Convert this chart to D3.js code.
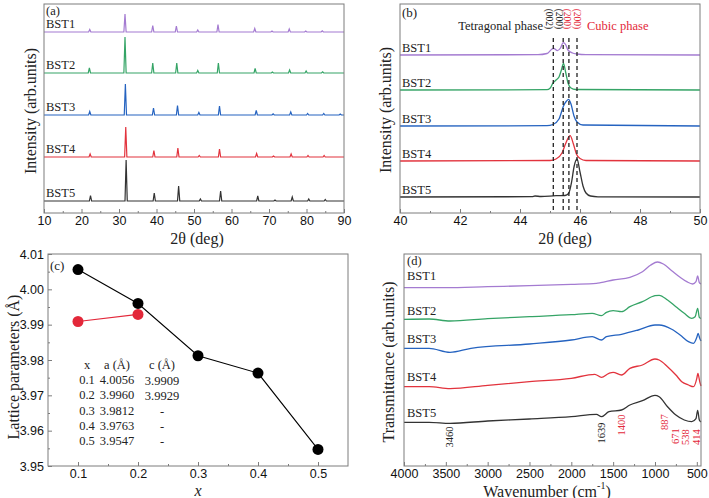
<!DOCTYPE html>
<html>
<head>
<meta charset="utf-8">
<script src="https://cdn.jsdelivr.net/npm/d3@7"></script>
<style>
  body { margin: 0; background: #fff; }
  text { font-family: "Liberation Serif", "Times New Roman", serif; fill: #222; }
</style>
</head>
<body>
<div id="chart"></div>
<script>
// sample names + colours
var samples = ["BST1", "BST2", "BST3", "BST4", "BST5"];
var sampleColors = ["#a47bd1", "#35a466", "#2563c0", "#e2333d", "#333333"];

// (a) XRD peaks for each sample: [2theta, height above the sample's own baseline]
var xrdPeaksBST1 = [[22.2, 2.5], [31.6, 18], [39.0, 6.5], [45.3, 6], [51.0, 2], [56.4, 7.5], [66.2, 3.5], [70.8, 1], [75.4, 3], [79.8, 1], [84.2, 1.2]];
var xrdPeaksBST2 = [[22.1, 5], [31.6, 36], [39.0, 10], [45.4, 10], [51.0, 2.5], [56.5, 10], [66.3, 4.5], [70.9, 1], [75.5, 3], [79.9, 2], [84.3, 1.2]];
var xrdPeaksBST3 = [[22.2, 3.5], [31.7, 31], [39.2, 7], [45.6, 9.5], [51.3, 2.5], [56.8, 9], [66.6, 4.5], [71.1, 1.2], [75.8, 3], [80.3, 1.5], [84.6, 1.5], [89.0, 1]];
var xrdPeaksBST4 = [[22.3, 3], [31.8, 30], [39.3, 6.5], [45.7, 9], [51.4, 1.5], [56.8, 8], [66.7, 3.5], [71.2, 1], [75.9, 3], [80.4, 1.5], [84.7, 1.5]];
var xrdPeaksBST5 = [[22.4, 5.5], [31.9, 41], [39.4, 8], [45.9, 15], [51.7, 2], [57.1, 10], [67.0, 5], [71.6, 1], [76.2, 4], [80.6, 2], [85.0, 1.5]];
var xrdPeaksA = [xrdPeaksBST1, xrdPeaksBST2, xrdPeaksBST3, xrdPeaksBST4, xrdPeaksBST5];
var xrdBaseA = [181, 140, 98, 56, 12];

// (b) zoom on the 45 deg peak, stacked intensity [2theta, value]
var zoomBST1 = [[40, 155], [44.6, 155.3], [44.9, 156.5], [45.05, 160.5], [45.12, 161.7], [45.25, 159.3], [45.35, 162], [45.44, 167.3], [45.52, 165.5], [45.6, 160], [45.75, 157], [45.9, 156], [46.2, 155.3], [50, 155]];
var zoomBST2 = [[40, 120], [44.9, 120.3], [45.0, 121.7], [45.1, 127], [45.2, 130], [45.3, 133], [45.38, 140], [45.45, 146.7], [45.52, 138], [45.6, 127], [45.7, 122], [45.85, 120.5], [50, 120]];
var zoomBST3 = [[40, 84], [44.9, 84.3], [45.1, 85.5], [45.3, 91], [45.45, 104], [45.55, 109], [45.62, 110.7], [45.7, 106], [45.8, 94], [45.9, 88], [46.1, 85], [50, 84]];
var zoomBST4 = [[40, 49], [45.0, 49.5], [45.2, 51], [45.4, 57], [45.53, 67], [45.67, 74.3], [45.78, 66], [45.88, 56], [46.0, 51.5], [46.2, 49.5], [50, 49]];
var zoomBST5 = [[40, 13], [44.4, 13.3], [44.5, 14], [44.7, 13.5], [45.2, 14.3], [45.5, 14.5], [45.62, 16.5], [45.72, 28], [45.8, 43], [45.9, 51], [46.0, 38], [46.1, 24], [46.2, 17], [46.35, 14], [46.6, 13.2], [50, 13]];
var zoomSeries = [zoomBST1, zoomBST2, zoomBST3, zoomBST4, zoomBST5];
var planePos = [45.11, 45.44, 45.63, 45.9];
var planeLabels = ["(002)", "(200)", "(200)", "(200)"];
var planeCubic = [false, false, true, true];

// (c) lattice parameters
var xComp = [0.1, 0.2, 0.3, 0.4, 0.5];
var aParam = [4.0056, 3.9960, 3.9812, 3.9763, 3.9547];
var cComp = [0.1, 0.2];
var cParam = [3.9909, 3.9929];

// (d) FTIR, stacked transmittance [wavenumber, value]
var irBST1 = [[4000, 178.3], [3500, 178.3], [3000, 179.3], [2500, 180.3], [2000, 181.7], [1700, 182.7], [1650, 183.3], [1500, 186], [1300, 188.7], [1150, 194.3], [1050, 201], [970, 204], [900, 202], [800, 195.3], [700, 188.7], [620, 184.3], [550, 182], [510, 184.3], [490, 190], [470, 183.3], [450, 182]];
var irBST2 = [[4000, 146.7], [3700, 147], [3450, 145], [3000, 147.3], [2500, 149.3], [2000, 151.3], [1750, 152.7], [1640, 150.3], [1580, 153.7], [1500, 155.3], [1400, 154.3], [1300, 159.3], [1150, 164.3], [1000, 170.3], [950, 170.7], [850, 166], [750, 159.3], [650, 152.7], [560, 147.7], [520, 149.3], [490, 157.7], [470, 148.7], [450, 147.5]];
var irBST3 = [[4000, 117.7], [3700, 117.7], [3450, 113.7], [3200, 117.7], [2500, 122], [2000, 126], [1750, 129.3], [1640, 126], [1580, 129.3], [1400, 131.7], [1200, 136], [1000, 141], [950, 141], [800, 136.7], [700, 131], [600, 124.3], [540, 122.7], [500, 128.7], [485, 132.7], [465, 127.7], [450, 125]];
var irBST4 = [[4000, 79.3], [3700, 79.3], [3450, 77.3], [3000, 80.7], [2500, 84.3], [2000, 87.7], [1720, 91.7], [1640, 88.7], [1550, 92.7], [1500, 93.7], [1400, 91], [1300, 97.7], [1150, 101], [1000, 107], [950, 106], [850, 99.3], [750, 91], [680, 84.3], [600, 81], [540, 79.3], [500, 87.7], [487, 92.7], [465, 84.3], [450, 80]];
var irBST5 = [[4000, 43.7], [3700, 43.7], [3450, 42.7], [3000, 45], [2500, 47], [2000, 49.3], [1700, 51.7], [1640, 49.3], [1550, 54.3], [1400, 56], [1300, 61], [1150, 65.3], [1000, 70.7], [950, 69.3], [850, 59.3], [750, 51], [650, 46], [560, 44.3], [510, 47.3], [490, 55.7], [470, 46], [450, 44]];
var irSeries = [irBST1, irBST2, irBST3, irBST4, irBST5];
var irBands = [3460, 1639, 1400, 887, 671, 538, 414];
var irBandRed = [false, false, true, true, true, true, true];
var irBandNudge = [0, 0, 0, 0, -7, -8, -8];

var frameColor = "#7d7d7d";
var red = "#e3283a";
var sansFont = "'Liberation Sans', Arial, sans-serif";

var svg = d3.select("#chart")
  .append("svg")
  .attr("width", 709)
  .attr("height", 498);

// panel boxes
var boxA = { left: 44, right: 344, top: 4, bottom: 213 };
var boxB = { left: 400, right: 700, top: 4, bottom: 213 };
var boxC = { left: 48, right: 348, top: 254, bottom: 466 };
var boxD = { left: 404, right: 701, top: 254, bottom: 466 };

function frame(box) {
  svg.append("rect")
    .attr("x", box.left).attr("y", box.top)
    .attr("width", box.right - box.left)
    .attr("height", box.bottom - box.top)
    .attr("fill", "none")
    .attr("stroke", frameColor)
    .attr("stroke-width", 1);
}

function styleAxis(g) {
  g.select(".domain").remove();
  g.selectAll(".tick line").attr("stroke", frameColor);
  g.selectAll(".tick text")
    .style("font-family", sansFont)
    .style("font-size", "12.5px")
    .style("fill", "#111");
}

function xTicks(scale, y, major, minor, fmt) {
  var g = svg.append("g")
    .attr("transform", `translate(0, ${y})`)
    .call(d3.axisBottom(scale).tickValues(major).tickSizeInner(-4).tickSizeOuter(0).tickPadding(3).tickFormat(fmt));
  styleAxis(g);
  var m = svg.append("g")
    .attr("transform", `translate(0, ${y})`)
    .call(d3.axisBottom(scale).tickValues(minor).tickSizeInner(-2).tickSizeOuter(0).tickFormat(""));
  styleAxis(m);
}

function label(x, y, txt, size, opts) {
  opts = opts || {};
  var t = svg.append("text")
    .attr("x", x).attr("y", y)
    .attr("dominant-baseline", "central")
    .attr("text-anchor", opts.anchor || "start")
    .attr("font-size", size)
    .text(txt);
  if (opts.rotate) t.attr("transform", `rotate(${opts.rotate}, ${x}, ${y})`);
  if (opts.color) t.style("fill", opts.color);
  if (opts.italic) t.attr("font-style", "italic");
  return t;
}

// ---------------- (a) XRD ----------------
var xA = d3.scaleLinear().domain([10, 90]).range([boxA.left, boxA.right]);
var yA = d3.scaleLinear().domain([0, 209]).range([boxA.bottom, boxA.top]);
var lineA = d3.line().x(d => xA(d[0])).y(d => yA(d[1]));

xrdPeaksA.forEach(function(peaks, i) {
  var base = xrdBaseA[i];
  var pts = [[10, base]];
  peaks.forEach(function(p) {
    pts.push([p[0] - 0.3, base], [p[0], base + p[1]], [p[0] + 0.3, base]);
  });
  pts.push([90, base]);
  svg.append("path")
    .attr("d", lineA(pts))
    .attr("fill", "none")
    .attr("stroke", sampleColors[i])
    .attr("stroke-width", 1.2);
  label(46, yA(base) - 8, samples[i], 12.5);
});
frame(boxA);
xTicks(xA, boxA.bottom, d3.range(10, 91, 10), d3.range(15, 90, 10), d3.format("d"));
label(46, 11, "(a)", 12.5);
label(30, 111, "Intensity (arb.units)", 16, { anchor: "middle", rotate: -90 });
label(197, 238, "2θ (deg)", 16, { anchor: "middle" });

// ---------------- (b) zoomed XRD ----------------
var xB = d3.scaleLinear().domain([40, 50]).range([boxB.left, boxB.right]);
var yB = d3.scaleLinear().domain([-3, 206]).range([boxB.bottom, boxB.top]);
var lineB = d3.line().x(d => xB(d[0])).y(d => yB(d[1])).curve(d3.curveMonotoneX);

zoomSeries.forEach(function(s, i) {
  svg.append("path")
    .attr("d", lineB(s))
    .attr("fill", "none")
    .attr("stroke", sampleColors[i])
    .attr("stroke-width", 1.3);
  label(402, yB(s[0][1]) - 7, samples[i], 12.5);
});

var planeNudge = [-4, -4, -2, 0];
planePos.forEach(function(p, i) {
  svg.append("line")
    .attr("x1", xB(p)).attr("x2", xB(p))
    .attr("y1", 38).attr("y2", 210)
    .attr("stroke", "#222")
    .attr("stroke-width", 1.3)
    .attr("stroke-dasharray", "4,3");
  label(xB(p) + planeNudge[i], 19, planeLabels[i], 9.5, { anchor: "middle", rotate: 90, color: planeCubic[i] ? red : "#222" });
});
label(543, 26, "Tetragonal phase", 12.5, { anchor: "end" });
label(587, 26, "Cubic phase", 12.5, { color: red });

frame(boxB);
xTicks(xB, boxB.bottom, d3.range(40, 51, 2), d3.range(41, 50, 2), d3.format("d"));
label(402, 12, "(b)", 13);
label(385, 110, "Intensity (arb.units)", 16, { anchor: "middle", rotate: -90 });
label(565, 238, "2θ (deg)", 16, { anchor: "middle" });

// ---------------- (c) lattice parameters ----------------
var xC = d3.scaleLinear().domain([0.05, 0.55]).range([boxC.left, boxC.right]);
var yC = d3.scaleLinear().domain([3.95, 4.01]).range([boxC.bottom, boxC.top]);

var aPts = xComp.map((x, i) => [x, aParam[i]]);
var cPts = cComp.map((x, i) => [x, cParam[i]]);
var lineC = d3.line().x(d => xC(d[0])).y(d => yC(d[1]));

svg.append("path").attr("d", lineC(aPts)).attr("fill", "none").attr("stroke", "#000").attr("stroke-width", 1.1);
svg.append("path").attr("d", lineC(cPts)).attr("fill", "none").attr("stroke", red).attr("stroke-width", 1.1);
svg.selectAll(".adot").data(aPts).enter().append("circle")
  .attr("cx", d => xC(d[0])).attr("cy", d => yC(d[1])).attr("r", 5.5).attr("fill", "#000");
svg.selectAll(".cdot").data(cPts).enter().append("circle")
  .attr("cx", d => xC(d[0])).attr("cy", d => yC(d[1])).attr("r", 5.5).attr("fill", red);

frame(boxC);
xTicks(xC, boxC.bottom, xComp, [0.15, 0.25, 0.35, 0.45], d3.format(".1f"));
var yAxC = svg.append("g")
  .attr("transform", `translate(${boxC.left}, 0)`)
  .call(d3.axisLeft(yC).tickValues(d3.range(0, 7).map(k => 3.95 + k * 0.01)).tickSizeInner(-4).tickSizeOuter(0).tickPadding(4).tickFormat(d3.format(".2f")));
styleAxis(yAxC);
var yMinC = svg.append("g")
  .attr("transform", `translate(${boxC.left}, 0)`)
  .call(d3.axisLeft(yC).tickValues(d3.range(0, 6).map(k => 3.955 + k * 0.01)).tickSizeInner(-2).tickSizeOuter(0).tickFormat(""));
styleAxis(yMinC);

// small table inside (c)
label(87, 365, "x", 12.5, { anchor: "middle" });
label(117, 365, "a (Å)", 12.5, { anchor: "middle" });
label(162, 365, "c (Å)", 12.5, { anchor: "middle" });
xComp.forEach(function(x, i) {
  var ty = 380 + i * 15.3;
  label(87, ty, x.toFixed(1), 12.5, { anchor: "middle" });
  label(117, ty, aParam[i].toFixed(4), 12.5, { anchor: "middle" });
  label(162, ty + 1, i < cParam.length ? cParam[i].toFixed(4) : "-", 12.5, { anchor: "middle" });
});
label(50, 265, "(c)", 13);
label(13, 367, "Lattice parameters (Å)", 16, { anchor: "middle", rotate: -90 });
label(198, 490, "x", 16, { anchor: "middle", italic: true });

// ---------------- (d) FTIR ----------------
var xD = d3.scaleLinear().domain([4000, 450]).range([boxD.left, boxD.right]);
var yD = d3.scaleLinear().domain([0, 212]).range([boxD.bottom, boxD.top]);
var lineD = d3.line().x(d => xD(d[0])).y(d => yD(d[1])).curve(d3.curveMonotoneX);

irSeries.forEach(function(s, i) {
  svg.append("path")
    .attr("d", lineD(s))
    .attr("fill", "none")
    .attr("stroke", sampleColors[i])
    .attr("stroke-width", 1.3);
});
var irLabelY = [276, 311, 339, 377, 413];
samples.forEach(function(name, i) {
  label(407, irLabelY[i], name, 12.5);
});
var irBandY = [437, 433, 425, 422, 436, 437, 437];
irBands.forEach(function(b, i) {
  label(xD(b) + irBandNudge[i], irBandY[i], String(b), 10.5, { anchor: "middle", rotate: -90, color: irBandRed[i] ? red : "#222" });
});

frame(boxD);
xTicks(xD, boxD.bottom, d3.range(4000, 499, -500), d3.range(3750, 700, -500), d3.format("d"));
label(407, 261, "(d)", 12.5);
label(388, 362, "Transmittance (arb.units)", 16, { anchor: "middle", rotate: -90 });
var wn = label(547, 491, "Wavenumber (cm", 16, { anchor: "middle" });
wn.append("tspan").attr("baseline-shift", "super").attr("font-size", 10).text("-1");
wn.append("tspan").text(")");
</script>
</body>
</html>
